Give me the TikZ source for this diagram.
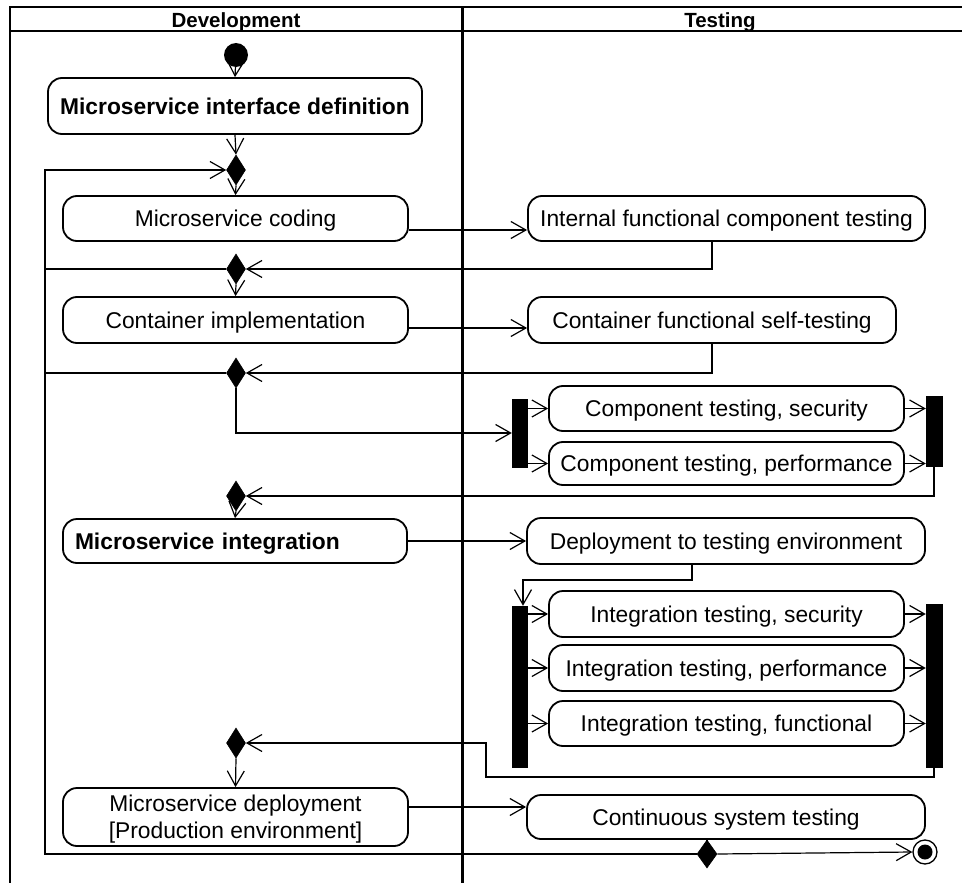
\documentclass[tikz,border=0pt]{standalone}
\usepackage{fontspec}
\setmainfont{Liberation Sans}
\usetikzlibrary{arrows.meta,shapes.geometric,calc}
\begin{document}
\begin{tikzpicture}[x=1pt,y=-1pt,
  act/.style={draw, line width=1.8pt, rounded corners=14pt, inner sep=0pt,
    text depth=0pt, font=\fontsize{22.8}{27}\selectfont, align=center},
  bact/.style={act, font=\bfseries\fontsize{22.8}{27}\selectfont},
  dec/.style={draw, fill=black, diamond, inner sep=0pt, line width=0.6pt,
    minimum width=19pt, minimum height=30pt},
  bar/.style={draw, fill=black, inner sep=0pt, minimum width=15pt},
  flow/.style={line width=1.2pt, -{Straight Barb[length=15pt,width=17pt]}},
  link/.style={line width=1.2pt},
  hdr/.style={font=\bfseries\fontsize{20.5}{24}\selectfont, inner sep=0pt}
]
\useasboundingbox (0,0) rectangle (962,883);

% swimlane frame
\draw[line width=2pt] (962,7) -- (10,7) -- (10,883);
\draw[line width=2pt] (10,31) -- (962,31);
\draw[line width=3pt] (462,7) -- (462,883);
\node[hdr, anchor=base] (hdev) at (236,27.5) {Development};
\node[hdr, anchor=base] (htest) at (720,27.5) {Testing};

% initial and final nodes
\node[circle, fill=black, minimum size=24pt, inner sep=0pt] (start) at (236,55) {};
\node[circle, draw, line width=1.3pt, minimum size=24pt, inner sep=0pt] (final) at (925,852) {};
\node[circle, fill=black, minimum size=15pt, inner sep=0pt] (finaldot) at (final.center) {};

% development actions
\node[bact, minimum width=374pt, minimum height=56pt] (defn) at (235,106) {Microservice interface definition};
\node[act, minimum width=345pt, minimum height=45pt] (coding) at (235.5,218.5) {Microservice coding};
\node[act, minimum width=345pt, minimum height=46pt] (contimpl) at (235.5,320) {Container implementation};
\node[bact, text width=320pt, align=left, inner xsep=12pt, minimum height=44pt] (integ) at (235,541) {Microservice integration};
\node[act, minimum width=345pt, minimum height=58pt] (deploy) at (235.5,817) {Microservice deployment\\{}[Production environment]};

% testing actions
\node[act, minimum width=397pt, minimum height=45pt] (ifct) at (726.5,218.5) {Internal functional component testing};
\node[act, minimum width=368pt, minimum height=46pt] (cfst) at (712,320) {Container functional self-testing};
\node[act, minimum width=355pt, minimum height=45pt] (cts) at (726.5,408.5) {Component testing, security};
\node[act, minimum width=355pt, minimum height=43pt] (ctp) at (726.5,463.5) {Component testing, performance};
\node[act, minimum width=398pt, minimum height=46pt] (dte) at (726,541) {Deployment to testing environment};
\node[act, minimum width=355pt, minimum height=46pt] (its) at (726.5,614) {Integration testing, security};
\node[act, minimum width=355pt, minimum height=46pt] (itp) at (726.5,668) {Integration testing, performance};
\node[act, minimum width=355pt, minimum height=45pt] (itf) at (726.5,723.5) {Integration testing, functional};
\node[act, minimum width=398pt, minimum height=44pt] (cst) at (726,817) {Continuous system testing};

% fork / join bars
\node[bar, minimum height=68pt] (bar1) at (519.5,433) {};
\node[bar, minimum width=16pt, minimum height=70pt] (bar2) at (934,431) {};
\node[bar, minimum height=161pt] (bar3) at (519.5,686.5) {};
\node[bar, minimum width=16pt, minimum height=163pt] (bar4) at (934,685.5) {};

% decision / merge nodes
\node[dec] (d1) at (236,170) {};
\node[dec] (d2) at (236,269) {};
\node[dec] (d3) at (236,373) {};
\node[dec] (d4) at (236,496) {};
\node[dec] (d5) at (236,743) {};
\node[dec, minimum width=20pt, minimum height=28pt] (d6) at (707,854) {};

% helper points
\coordinate (loopx) at (45,855);
\coordinate (k) at (523,580);
\coordinate (m1) at (486,777);

% control flow
\draw[flow] (start) -- (defn.north);
\draw[flow] (defn.south) -- (d1.north);
\draw[flow] (d1.south) -- (coding.north);
\draw[flow] ([yshift=-11.5pt]coding.east) -- ([yshift=-11.5pt]ifct.west);
\draw[flow] ([xshift=-14.5pt]ifct.south) |- (d2.east);
\draw[link] (d2.west) -- (loopx |- d2.west);
\draw[flow] (d2.south) -- (contimpl.north);
\draw[flow] ([yshift=-8pt]contimpl.east) -- ([yshift=-8pt]cfst.west);
\draw[flow] (cfst.south) |- (d3.east);
\draw[link] (d3.west) -- (loopx |- d3.west);
\draw[flow] (d3.south) |- (bar1.west);
\draw[flow] (bar1.east |- cts.west) -- (cts.west);
\draw[flow] (bar1.east |- ctp.west) -- (ctp.west);
\draw[flow] (cts.east) -- (bar2.west |- cts.east);
\draw[flow] (ctp.east) -- (bar2.west |- ctp.east);
\draw[flow] (bar2.south) |- (d4.east);
\draw[flow] (d4.south) -- (integ.north);
\draw[flow] (integ.east) -- (dte.west);
\draw[flow] ([xshift=-34pt]dte.south) |- (k) -- (k |- bar3.north);
\draw[flow] (bar3.east |- its.west) -- (its.west);
\draw[flow] (bar3.east |- itp.west) -- (itp.west);
\draw[flow] (bar3.east |- itf.west) -- (itf.west);
\draw[flow] (its.east) -- (bar4.west |- its.east);
\draw[flow] (itp.east) -- (bar4.west |- itp.east);
\draw[flow] (itf.east) -- (bar4.west |- itf.east);
\draw[flow] (bar4.south) |- (m1) |- (d5.east);
\draw[flow] (d5.south) -- (deploy.north);
\draw[flow] ([yshift=10pt]deploy.east) -- ([yshift=10pt]cst.west);
\draw[link] (cst.south -| d6.north) -- (d6.north);
\draw[flow] (d6.east) -- (final.west);
\draw[flow] (d6.west) -| (loopx |- d1.west) -- (d1.west);
\end{tikzpicture}
\end{document}
